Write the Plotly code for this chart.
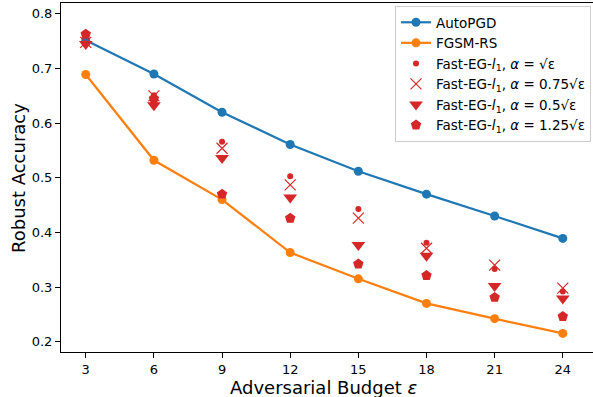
import plotly.graph_objects as go

eps = [3, 6, 9, 12, 15, 18, 21, 24]
autopgd = [0.752, 0.690, 0.620, 0.561, 0.512, 0.470, 0.430, 0.389]
fgsm_rs = [0.689, 0.532, 0.460, 0.363, 0.315, 0.270, 0.242, 0.215]
eg_a100 = [0.760, 0.651, 0.566, 0.503, 0.443, 0.381, 0.333, 0.292]
eg_a075 = [0.748, 0.650, 0.554, 0.487, 0.426, 0.371, 0.340, 0.298]
eg_a050 = [0.745, 0.633, 0.536, 0.464, 0.377, 0.357, 0.302, 0.279]
eg_a125 = [0.763, 0.645, 0.470, 0.426, 0.342, 0.321, 0.281, 0.246]
x_ticks = [3, 6, 9, 12, 15, 18, 21, 24]
y_ticks = [0.2, 0.3, 0.4, 0.5, 0.6, 0.7, 0.8]

BLUE = "#1f77b4"
ORANGE = "#ff7f0e"
RED = "#d62728"
FONT = "DejaVu Sans"

lbl = "Fast-EG-<i>l</i><sub>1</sub>, <i>α</i> = "
fig = go.Figure()
fig.add_trace(go.Scatter(x=eps, y=autopgd, mode="lines+markers", name="AutoPGD",
                         line=dict(color=BLUE, width=2.2), marker=dict(size=9, color=BLUE)))
fig.add_trace(go.Scatter(x=eps, y=fgsm_rs, mode="lines+markers", name="FGSM-RS",
                         line=dict(color=ORANGE, width=2.2), marker=dict(size=9, color=ORANGE)))
fig.add_trace(go.Scatter(x=eps, y=eg_a100, mode="markers", name=lbl + "√ε",
                         marker=dict(size=6, color=RED, symbol="circle")))
fig.add_trace(go.Scatter(x=eps, y=eg_a075, mode="markers", name=lbl + "0.75√ε",
                         marker=dict(size=11, color=RED, symbol="x-thin",
                                     line=dict(color=RED, width=1.2))))
fig.add_trace(go.Scatter(x=eps, y=eg_a050, mode="markers", name=lbl + "0.5√ε",
                         marker=dict(size=12, color=RED, symbol="triangle-down")))
fig.add_trace(go.Scatter(x=eps, y=eg_a125, mode="markers", name=lbl + "1.25√ε",
                         marker=dict(size=11, color=RED, symbol="pentagon")))

W, H = 593, 397
L, R, T, B = 61, 0, 3, 45
PW, PH = W - L - R, H - T - B


def px_x(px):
    return (px - L) / PW


def px_y(py):
    return (H - B - py) / PH


fig.update_layout(
    width=W, height=H,
    margin=dict(l=L, r=R, t=T, b=B, autoexpand=False),
    paper_bgcolor="white", plot_bgcolor="white",
    font=dict(family=FONT, size=13, color="black"),
    legend=dict(x=px_x(395), y=px_y(6), xanchor="left", yanchor="top",
                bgcolor="rgba(255,255,255,0.8)", bordercolor="#cccccc", borderwidth=1,
                font=dict(family=FONT, size=13.5), tracegroupgap=0, itemwidth=30),
    xaxis=dict(range=[1.91, 25.33], tickvals=x_ticks, ticktext=[str(v) for v in x_ticks],
               showgrid=False, zeroline=False, showline=True, mirror=True, automargin=False,
               linecolor="black", linewidth=1, ticks="outside", ticklen=5, tickcolor="black",
               tickfont=dict(size=13)),
    yaxis=dict(range=[0.181, 0.82], tickvals=y_ticks, ticktext=[f"{v:.1f}" for v in y_ticks],
               showgrid=False, zeroline=False, showline=True, mirror=False, automargin=False,
               linecolor="black", linewidth=1, ticks="outside", ticklen=5, tickcolor="black",
               tickfont=dict(size=13)),
    annotations=[
        dict(text="Adversarial Budget <i>ε</i>", x=px_x(324), y=px_y(387), xref="paper", yref="paper",
             xanchor="center", yanchor="middle", showarrow=False, font=dict(size=18)),
        dict(text="Robust Accuracy", x=px_x(18), y=px_y(178),
             xref="paper", yref="paper", xanchor="center", yanchor="middle", showarrow=False,
             textangle=-90, font=dict(size=18)),
    ],
)

fig.write_html("out.html", config={"displayModeBar": False},
               post_script="document.body.style.margin='0';document.body.style.padding='0';")
